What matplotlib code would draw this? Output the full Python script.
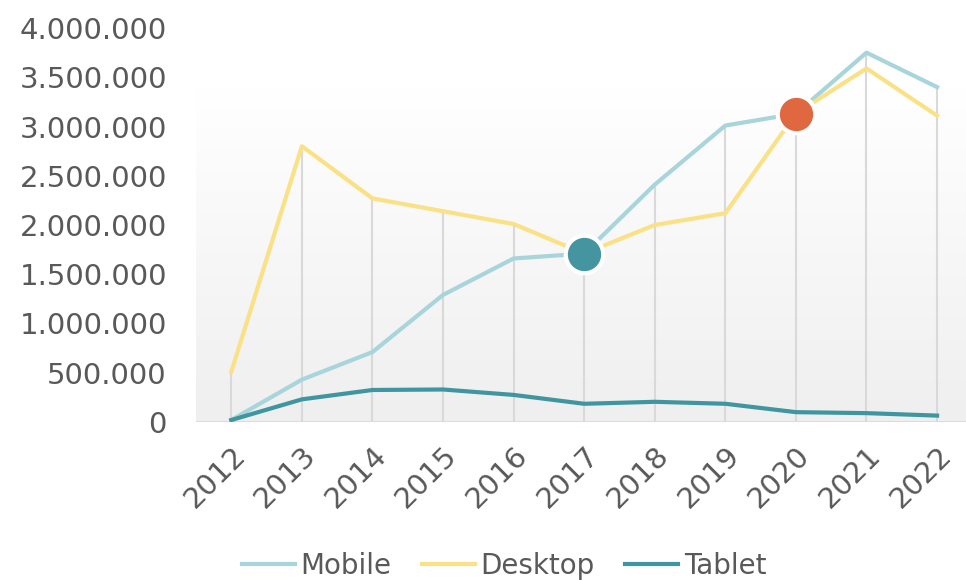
"""
Device usage per year (Mobile / Desktop / Tablet) as a line chart
with drop lines and two highlighted points.

Output:
- out.png
"""

import matplotlib.pyplot as plt
import numpy as np
from matplotlib.colors import LinearSegmentedColormap
from matplotlib.ticker import FuncFormatter


YEARS = ["2012", "2013", "2014", "2015", "2016", "2017",
         "2018", "2019", "2020", "2021", "2022"]
MOBILE = [20_000, 430_000, 710_000, 1_290_000, 1_660_000, 1_710_000,
          2_410_000, 3_010_000, 3_130_000, 3_750_000, 3_400_000]
DESKTOP = [510_000, 2_800_000, 2_270_000, 2_140_000, 2_010_000, 1_710_000,
           2_000_000, 2_120_000, 3_130_000, 3_590_000, 3_110_000]
TABLET = [20_000, 230_000, 325_000, 330_000, 275_000, 185_000,
          205_000, 185_000, 100_000, 90_000, 65_000]

# highlighted points: (year index, value, colour)
HIGHLIGHTS = [(5, 1_710_000, "#44959F"), (8, 3_130_000, "#E06841")]

TEXT = "#595959"


def thousands(v, _pos):
    return f"{int(v):,}".replace(",", ".")


def main() -> None:
    plt.rcParams["font.family"] = ["DejaVu Sans"]

    fig = plt.figure(figsize=(9.66, 5.8), dpi=100)
    ax = fig.add_axes([196 / 966, 1 - 422 / 580, 1 - 196 / 966, (422 - 28) / 580])

    x = np.arange(len(YEARS))
    xmin, xmax = -0.5, 10.41

    # soft vertical gradient behind the plot (white on top, light grey below)
    cmap = LinearSegmentedColormap.from_list(
        "bg", [(0.0, "#FFFFFF"), (0.15, "#FFFFFF"), (1.0, "#EFEFEF")])
    grad = np.linspace(1, 0, 256).reshape(-1, 1)
    ax.imshow(grad, extent=[xmin, xmax, 0, 4_000_000], origin="lower",
              aspect="auto", cmap=cmap, zorder=0)
    ax.set_xlim(xmin, xmax)
    ax.set_ylim(0, 4_000_000)

    # drop lines from the highest point down to the baseline
    tops = np.maximum(np.maximum(MOBILE, DESKTOP), TABLET)
    ax.vlines(x, 0, tops, color="#D9D9D9", lw=1.5, zorder=1)
    ax.axhline(0, color="#D9D9D9", lw=2, zorder=1)

    ax.plot(x, MOBILE, color="#A8D5DB", lw=3, label="Mobile", zorder=3)
    ax.plot(x, DESKTOP, color="#FBE186", lw=3, label="Desktop", zorder=3)
    ax.plot(x, TABLET, color="#3F96A0", lw=3, label="Tablet", zorder=4)

    for i, v, c in HIGHLIGHTS:
        ax.plot(x[i], v, "o", ms=27, color=c, mec="white", mew=3, zorder=5)

    for side in ["top", "right", "left", "bottom"]:
        ax.spines[side].set_visible(False)

    ax.set_xticks(x)
    ax.set_xticklabels(YEARS, rotation=45, ha="right", rotation_mode="anchor")
    ax.yaxis.set_major_formatter(FuncFormatter(thousands))
    ax.set_yticks(np.arange(0, 4_000_001, 500_000))
    ax.tick_params(axis="both", length=0, colors=TEXT)
    ax.tick_params(axis="y", pad=21, labelsize=21)
    ax.tick_params(axis="x", pad=14, labelsize=21)

    fig.legend(loc="center", bbox_to_anchor=(0.522, 0.024), ncol=3,
               frameon=False, fontsize=20, labelcolor=TEXT,
               handlelength=1.9, handletextpad=0.2, columnspacing=1.1)

    fig.savefig("out.png", dpi=100)
    plt.close(fig)


if __name__ == "__main__":
    main()
